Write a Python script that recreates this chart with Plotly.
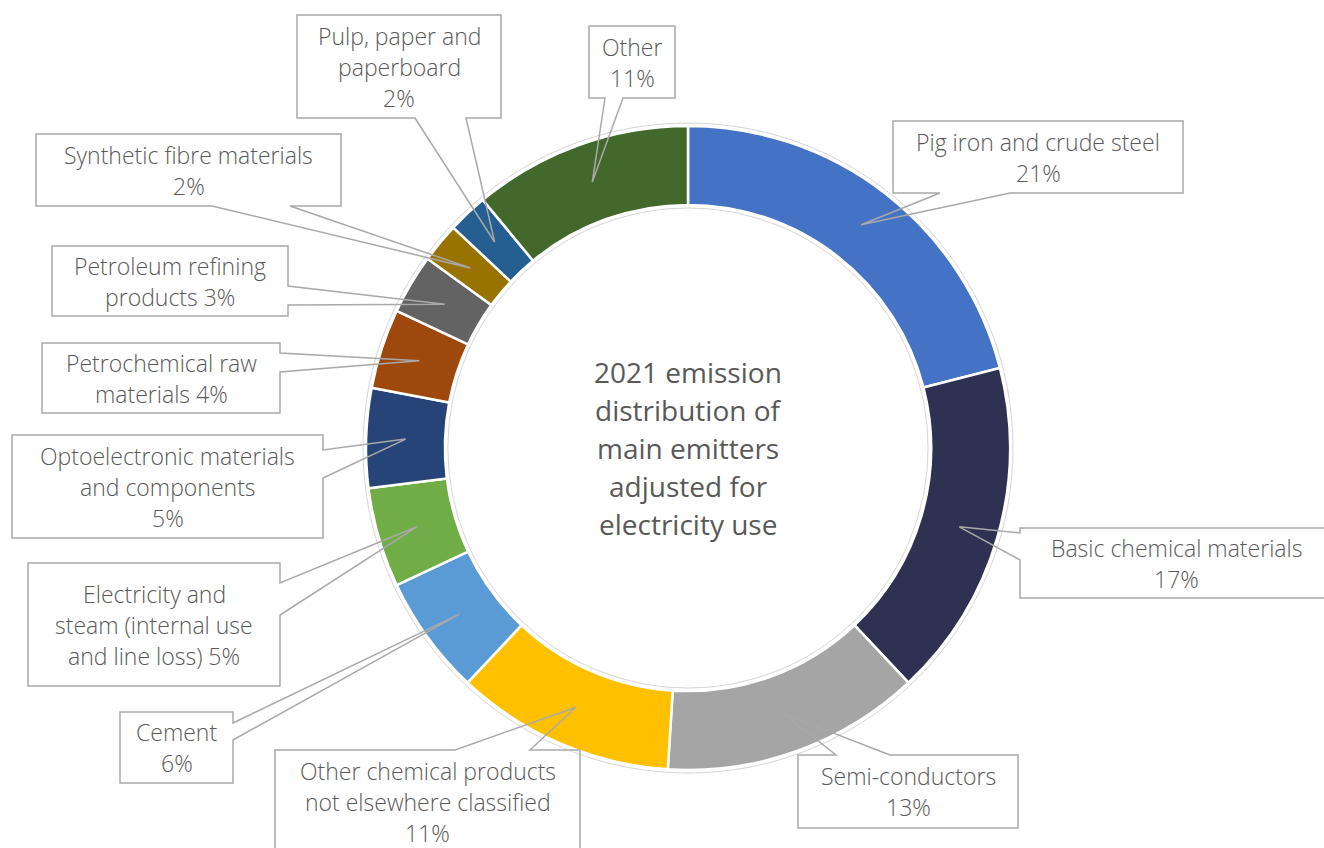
import math
import plotly.graph_objects as go

# ---- data -------------------------------------------------------------
sectors = [
    "Pig iron and crude steel",
    "Basic chemical materials",
    "Semi-conductors",
    "Other chemical products not elsewhere classified",
    "Cement",
    "Electricity and steam (internal use and line loss)",
    "Optoelectronic materials and components",
    "Petrochemical raw materials",
    "Petroleum refining products",
    "Synthetic fibre materials",
    "Pulp, paper and paperboard",
    "Other",
]
shares = [21, 17, 13, 11, 6, 5, 5, 4, 3, 2, 2, 11]

# label text lines for each callout ({p} is replaced by the share)
label_lines = [
    ["Pig iron and crude steel", "{p}%"],
    ["Basic chemical materials", "{p}%"],
    ["Semi-conductors", "{p}%"],
    ["Other chemical products", "not elsewhere classified", "{p}%"],
    ["Cement", "{p}%"],
    ["Electricity and", "steam (internal use", "and line loss) {p}%"],
    ["Optoelectronic materials", "and components", "{p}%"],
    ["Petrochemical raw", "materials {p}%"],
    ["Petroleum refining", "products {p}%"],
    ["Synthetic fibre materials", "{p}%"],
    ["Pulp, paper and", "paperboard", "{p}%"],
    ["Other", "{p}%"],
]

center_title = ["2021 emission", "distribution of", "main emitters",
                "adjusted for", "electricity use"]

colors = ["#4472C4", "#2E3151", "#A5A5A5", "#FFC000", "#5B9BD5", "#70AD47",
          "#264478", "#9E480E", "#636363", "#997300", "#255E91", "#43682B"]

# ---- layout geometry (pixels) ----------------------------------------
W, H = 1324, 848
CX, CY = 688, 448          # donut centre
R_OUT = 322                # outer radius
HOLE = 0.755               # inner / outer radius
R_IN = R_OUT * HOLE
R_TIP = (R_OUT + R_IN) / 2

# callout boxes: x0, y0, x1, y1, side of the pointer, pointer base start/end
boxes = [
    (893, 121, 1183, 193, "bottom", 940, 1010),
    (1020, 528, 1332, 598, "left", 533, 560),
    (798, 755, 1018, 828, "top", 836, 890),
    (275, 750, 580, 862, "top", 455, 530),
    (120, 712, 233, 783, "right", 723, 740),
    (28, 563, 280, 686, "right", 583, 615),
    (12, 435, 323, 538, "right", 450, 478),
    (42, 343, 280, 413, "right", 353, 372),
    (52, 246, 288, 316, "right", 286, 305),
    (36, 134, 341, 206, "bottom", 212, 290),
    (297, 15, 501, 118, "bottom", 415, 466),
    (589, 26, 675, 98, "bottom", 605, 623),
]

FONT = "'Open Sans', 'Noto Sans', sans-serif"
TEXT_COLOR = "#595959"
BORDER = "#A9A9A9"
LABEL_SIZE = 23
LINE_H = 31

fig = go.Figure()

# pie domain in paper units so that the donut sits at (CX, CY) with R_OUT
def domain(r):
    return dict(x=[(CX - r) / W, (CX + r) / W],
                y=[1 - (CY + r) / H, 1 - (CY - r) / H])

# faint outline ring behind the donut
r_bg = R_OUT + 3
fig.add_trace(go.Pie(
    values=[1], labels=["ring"], hole=(R_IN - 3) / r_bg,
    domain=domain(r_bg), sort=False, textinfo="none", hoverinfo="skip",
    marker=dict(colors=["white"], line=dict(color="#D6D6D6", width=1)),
    showlegend=False,
))

fig.add_trace(go.Pie(
    labels=sectors, values=shares, hole=HOLE, domain=domain(R_OUT),
    sort=False, direction="clockwise", rotation=0,
    textinfo="none", showlegend=False,
    marker=dict(colors=colors, line=dict(color="white", width=2.5)),
))

# pointer tips: mid-angle of each slice at the middle of the ring
total = sum(shares)
tips = []
acc = 0
for v in shares:
    mid = (acc + v / 2) / total * 2 * math.pi
    acc += v
    tips.append((CX + R_TIP * math.sin(mid), CY - R_TIP * math.cos(mid)))

shapes = []
annotations = []
for (x0, y0, x1, y1, side, b0, b1), (tx, ty), lines, v in zip(
        boxes, tips, label_lines, shares):
    pts = [(x0, y0)]
    if side == "top":
        pts += [(b0, y0), (tx, ty), (b1, y0)]
    pts.append((x1, y0))
    if side == "right":
        pts += [(x1, b0), (tx, ty), (x1, b1)]
    pts.append((x1, y1))
    if side == "bottom":
        pts += [(b1, y1), (tx, ty), (b0, y1)]
    pts.append((x0, y1))
    if side == "left":
        pts += [(x0, b1), (tx, ty), (x0, b0)]
    path = "M " + " L ".join(f"{px:.1f},{py:.1f}" for px, py in pts) + " Z"
    shapes.append(dict(type="path", path=path, xref="x", yref="y",
                       line=dict(color=BORDER, width=1.5),
                       fillcolor="rgba(0,0,0,0)", layer="above"))
    bx = (x0 + x1) / 2
    by = (y0 + y1) / 2
    n = len(lines)
    if x1 > W:
        bx = (x0 + W) / 2 + 4
    if y1 > H:
        by = y0 + 21 + (n - 1) * LINE_H / 2
    for i, ln in enumerate(lines):
        annotations.append(dict(
            x=bx, y=by + (i - (n - 1) / 2) * LINE_H, xref="x", yref="y",
            text=ln.format(p=v), showarrow=False,
            font=dict(family=FONT, size=LABEL_SIZE, color=TEXT_COLOR,
                      weight=300),
            xanchor="center", yanchor="middle"))

# centre title
for i, ln in enumerate(center_title):
    annotations.append(dict(
        x=CX, y=CY + (i - 2) * 38, xref="x", yref="y", text=ln,
        showarrow=False,
        font=dict(family=FONT, size=28, color=TEXT_COLOR, weight=500),
        xanchor="center", yanchor="middle"))

fig.update_layout(
    width=W, height=H,
    margin=dict(l=0, r=0, t=0, b=0),
    paper_bgcolor="white", plot_bgcolor="rgba(0,0,0,0)",
    xaxis=dict(range=[0, W], visible=False, fixedrange=True),
    yaxis=dict(range=[H, 0], visible=False, fixedrange=True),
    shapes=shapes, annotations=annotations,
)

fig.write_html("out.html")
